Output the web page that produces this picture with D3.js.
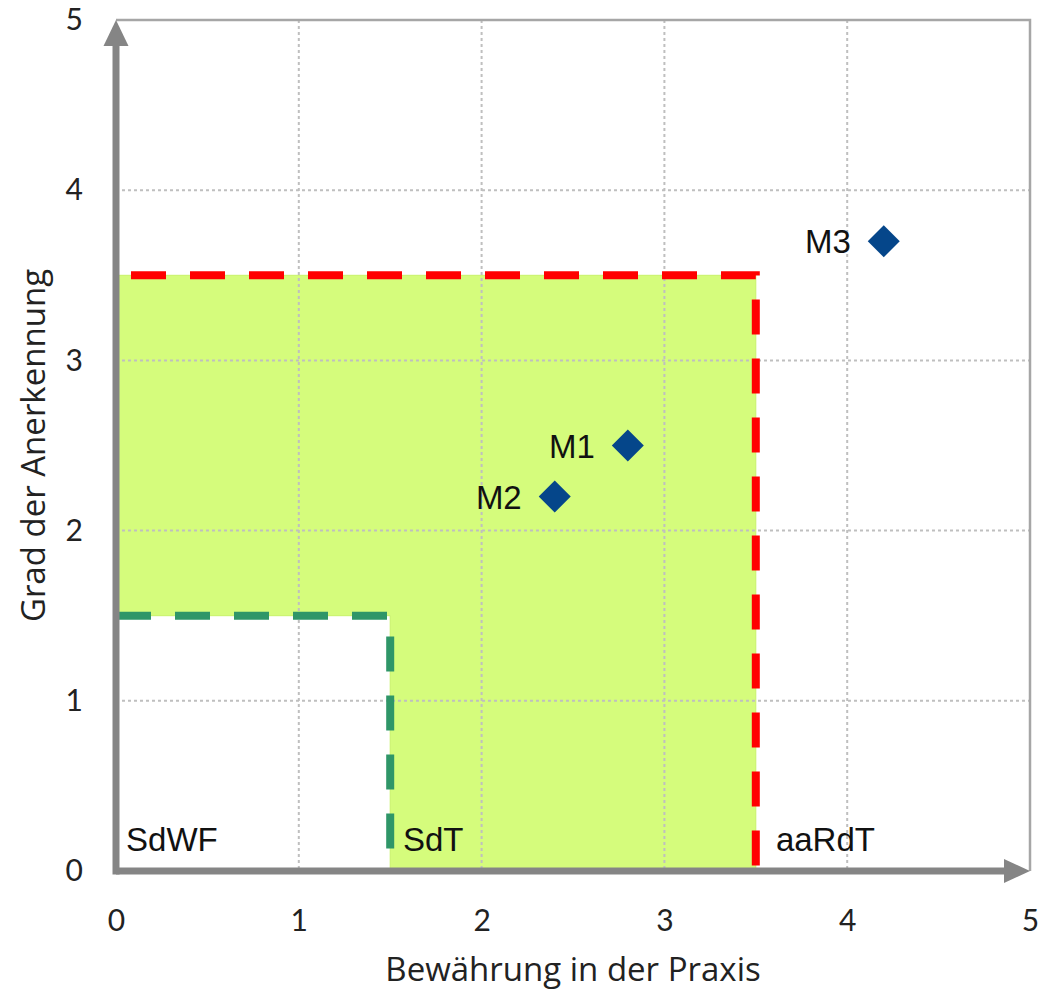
<!DOCTYPE html>
<html><head><meta charset="utf-8">
<script src="https://cdn.jsdelivr.net/npm/d3@7"></script>
<style>
html,body{margin:0;padding:0;background:#fff;}
svg{display:block;}
</style></head>
<body>
<script>
// ---- data ----
const xTickValues = [0, 1, 2, 3, 4, 5];
const yTickValues = [0, 1, 2, 3, 4, 5];
const xTitle = "Bewährung in der Praxis";
const yTitle = "Grad der Anerkennung";
const pointNames = ["M1", "M2", "M3"];
const pointX = [2.8, 2.4, 4.2];
const pointY = [2.5, 2.2, 3.7];
const zoneNames = ["SdWF", "SdT", "aaRdT"];
const zoneLabelX = [0.055, 1.57, 3.61];
const zoneLabelY = 0.12;
const fillX = [0, 3.5, 3.5, 1.5, 1.5, 0];
const fillY = [3.5, 3.5, 0, 0, 1.5, 1.5];
const redX = [0, 3.5, 3.5];
const redY = [3.5, 3.5, 0];
const greenX = [0, 1.5, 1.5];
const greenY = [1.5, 1.5, 0];

const W = 1043, H = 993;
const svg = d3.select("body").append("svg").attr("width", W).attr("height", H);

const x = d3.scaleLinear().domain([0, 5]).range([116, 1030]);
const y = d3.scaleLinear().domain([0, 5]).range([871, 20]);

const tickFont = "Lato, 'Open Sans', sans-serif";
const titleFont = "'Open Sans', Lato, sans-serif";
const labFont = "'Liberation Sans', Arial, sans-serif";

// fill zone
svg.append("path")
  .attr("d", d3.line()(fillX.map((v, i) => [x(v), y(fillY[i])])) + "Z")
  .attr("fill", "#d5fc7c")
  .attr("stroke", "#c8f26a").attr("stroke-width", 1);

// grid (dotted)
const grid = svg.append("g");
grid.selectAll("line.v").data(xTickValues.filter(d => d > 0 && d < 5)).join("line")
  .attr("x1", d => x(d)).attr("x2", d => x(d)).attr("y1", y(5)).attr("y2", y(0))
  .attr("stroke", "#bfbfbf").attr("stroke-width", 2).attr("stroke-dasharray", "3,3");
grid.selectAll("line.h").data(yTickValues.filter(d => d > 0 && d < 5)).join("line")
  .attr("y1", d => y(d)).attr("y2", d => y(d)).attr("x1", x(0)).attr("x2", x(5))
  .attr("stroke", "#bfbfbf").attr("stroke-width", 2).attr("stroke-dasharray", "3,3");

// frame top/right
svg.append("path")
  .attr("d", `M${x(0)},${y(5)}H${x(5)}V${y(0)}`)
  .attr("fill", "none").attr("stroke", "#a6a6a6").attr("stroke-width", 2.5);

// dashed boundary lines
const line = d3.line();
svg.append("path")
  .attr("d", line(greenX.map((v, i) => [x(v), y(greenY[i])])))
  .attr("fill", "none").attr("stroke", "#2f9668").attr("stroke-width", 8)
  .attr("stroke-dasharray", "35,24").attr("stroke-dashoffset", 0);
svg.append("path")
  .attr("d", line(redX.map((v, i) => [x(v), y(redY[i])])))
  .attr("fill", "none").attr("stroke", "#ff0000").attr("stroke-width", 8)
  .attr("stroke-dasharray", "35,24").attr("stroke-dashoffset", -15);

// axes (thick with arrows)
const axisColor = "#858585";
svg.append("line").attr("x1", x(0)).attr("x2", x(5) - 20).attr("y1", y(0)).attr("y2", y(0))
  .attr("stroke", axisColor).attr("stroke-width", 7);
svg.append("line").attr("x1", x(0)).attr("x2", x(0)).attr("y1", y(0) + 3.5).attr("y2", y(5) + 20)
  .attr("stroke", axisColor).attr("stroke-width", 7);
svg.append("path")
  .attr("d", `M${x(5)},${y(0)}L${x(5) - 26},${y(0) - 12}L${x(5) - 26},${y(0) + 12}Z`)
  .attr("fill", axisColor);
svg.append("path")
  .attr("d", `M${x(0)},${y(5)}L${x(0) - 12.5},${y(5) + 26}L${x(0) + 12.5},${y(5) + 26}Z`)
  .attr("fill", axisColor);

// tick labels via d3 axes
const xAxis = svg.append("g").attr("transform", `translate(0,${y(0)})`)
  .call(d3.axisBottom(x).tickValues(xTickValues).tickSize(0).tickPadding(30).tickFormat(d3.format("d")));
const yAxis = svg.append("g").attr("transform", `translate(${x(0)},0)`)
  .call(d3.axisLeft(y).tickValues(yTickValues).tickSize(0).tickPadding(33).tickFormat(d3.format("d")));
[xAxis, yAxis].forEach(a => {
  a.select(".domain").remove();
  a.selectAll("text").attr("font-family", tickFont).attr("font-size", 30).attr("fill", "#222");
});
xAxis.selectAll("text").attr("dy", null).attr("y", 0).attr("dominant-baseline", "central")
  .attr("transform", "translate(0,48)");

// axis titles
svg.append("text").attr("x", x(2.5)).attr("y", 981).attr("text-anchor", "middle")
  .attr("font-family", titleFont).attr("font-size", 33).attr("fill", "#222").text(xTitle);
svg.append("text").attr("transform", `translate(45,${y(2.5)}) rotate(-90)`).attr("text-anchor", "middle")
  .attr("font-family", titleFont).attr("font-size", 33).attr("fill", "#222").text(yTitle);

// zone labels
svg.selectAll("text.zone").data(zoneNames).join("text")
  .attr("x", (d, i) => x(zoneLabelX[i])).attr("y", y(zoneLabelY))
  .attr("font-family", labFont).attr("font-size", 33).attr("fill", "#111").text(d => d);

// points
const pts = pointNames.map((n, i) => ({ n, x: pointX[i], y: pointY[i] }));
svg.selectAll("path.pt").data(pts).join("path")
  .attr("d", "M0,-16L16,0L0,16L-16,0Z")
  .attr("transform", d => `translate(${x(d.x)},${y(d.y)})`)
  .attr("fill", "#05468a");
svg.selectAll("text.pt").data(pts).join("text")
  .attr("x", d => x(d.x) - 33).attr("y", d => y(d.y) + 12)
  .attr("text-anchor", "end")
  .attr("font-family", labFont).attr("font-size", 33).attr("fill", "#111").text(d => d.n);
</script>
</body></html>
